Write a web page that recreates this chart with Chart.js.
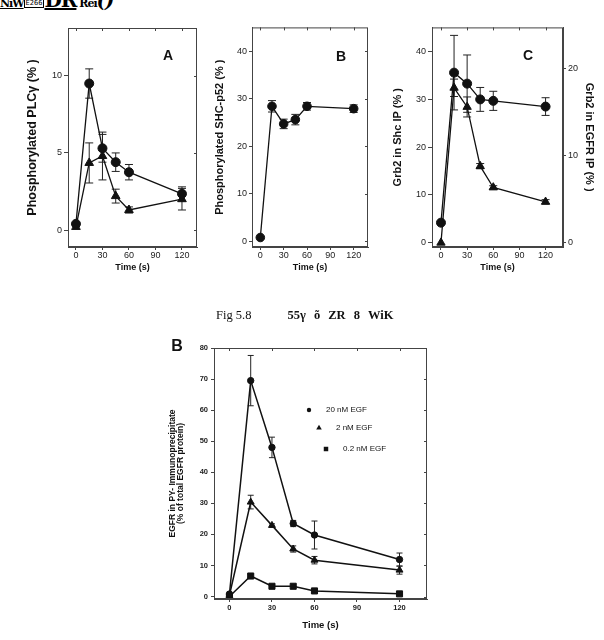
<!DOCTYPE html>
<html>
<head>
<meta charset="utf-8">
<script src="https://cdn.jsdelivr.net/npm/chart.js@4.4.0/dist/chart.umd.min.js"></script>
<style>
  html, body { margin: 0; padding: 0; background: #fff; }
  body { width: 604px; height: 640px; position: relative; overflow: hidden; font-family: "Liberation Sans", Arial, sans-serif; color: #111; }
  .box { position: absolute; }
  .tag { position: absolute; transform: translate(-50%, -50%); line-height: 1; font-weight: bold; color: #111; }
  #head { position: absolute; left: 0; top: -12px; white-space: nowrap; font: bold 20px "DejaVu Serif", serif; color: #000; letter-spacing: -1px; }
  #head .hex { display: inline-block; font: 7px "DejaVu Sans Mono", monospace; letter-spacing: 0; border: 1px solid #000; padding: 0 1px; vertical-align: 2px; }
  #caption { position: absolute; left: 216px; top: 308px; white-space: nowrap; font: 12.5px "Liberation Serif", serif; color: #111; }
  #caption b { font-weight: bold; word-spacing: 5px; margin-left: 36px; }
</style>
</head>
<body>

<div id="head"><span style="font-size:11px;text-decoration:underline">NiW</span><span class="hex">E266</span><u>ƊR</u><span style="font-size:11px"> Rei</span><i>()</i></div>

<div class="box" style="left:15px;top:20px;width:195px;height:270px"><canvas id="chartA"></canvas></div>
<div class="box" style="left:208px;top:20px;width:172px;height:270px"><canvas id="chartB"></canvas></div>
<div class="box" style="left:388px;top:20px;width:214px;height:270px"><canvas id="chartC"></canvas></div>
<div class="box" style="left:160px;top:330px;width:290px;height:310px"><canvas id="chartD"></canvas></div>

<div class="tag" style="left:168px;top:55px;font-size:14px">A</div>
<div class="tag" style="left:341px;top:56px;font-size:14px">B</div>
<div class="tag" style="left:528px;top:55px;font-size:14px">C</div>
<div class="tag" style="left:177px;top:346px;font-size:16px">B</div>

<div id="caption">Fig 5.8<b>55γ õ ZR 8 WiK</b></div>

<script>
const times = [0, 15, 30, 45, 60, 120];
const timeTicks = [0, 30, 60, 90, 120];

// panel A - phosphorylated PLCγ
const plcCircle = [0.4, 9.5, 5.3, 4.4, 3.75, 2.35];
const plcCircleErr = [0, 0.95, 0.9, 0.6, 0.5, 0.45];
const plcTri = [0.2, 4.35, 4.8, 2.2, 1.3, 2.0];
const plcTriErr = [0, 1.3, 1.55, 0.45, 0.2, 0.7];
const ticksA = [0, 5, 10];

// panel B - phosphorylated SHC-p52
const shc = [0.8, 28.4, 24.7, 25.6, 28.4, 27.9];
const shcErr = [0, 1.2, 1.0, 1.1, 0.8, 0.8];
const ticksB = [0, 10, 20, 30, 40];

// panel C - Grb2 in Shc IP (left) and in EGFR IP (right)
const grbShc = [4.2, 35.6, 33.3, 30.0, 29.7, 28.5];
const grbShcErr = [0, 7.8, 6.0, 2.5, 2.0, 1.85];
const grbEgfr = [0, 17.8, 15.6, 8.8, 6.35, 4.7];
const grbEgfrErr = [0, 1.0, 1.15, 0.3, 0.2, 0.25];
const ticksC = [0, 10, 20, 30, 40];
const ticksC2 = [0, 10, 20];

// lower panel - EGFR in PY immunoprecipitate
const egfLabels = ['20 nM EGF', '2 nM EGF', '0.2 nM EGF'];
const egfShapes = ['circle', 'triangle', 'rect'];
const egf20 = [0.8, 69.5, 48.0, 23.5, 19.8, 11.9];
const egf20Err = [0, 8.1, 3.3, 1.0, 4.5, 2.1];
const egf2 = [0.4, 30.4, 22.9, 15.3, 11.7, 8.5];
const egf2Err = [0, 2.2, 0.5, 1.0, 1.2, 1.3];
const egf02 = [0, 6.6, 3.3, 3.3, 1.8, 0.85];
const egf02Err = [0, 0.5, 0, 0, 0, 0];
const ticksD = [0, 10, 20, 30, 40, 50, 60, 70, 80];

const FONT = "'Liberation Sans', Arial, sans-serif";
Chart.defaults.font.family = FONT;
Chart.defaults.color = '#111';
Chart.defaults.animation = false;
Chart.defaults.plugins.legend.display = false;
Chart.defaults.plugins.tooltip.enabled = false;

// box round the plot with small inward ticks on top / right
const frame = {
    id: 'frame',
    afterDraw(chart) {
        const { ctx, chartArea: a, scales } = chart;
        ctx.save();
        ctx.strokeStyle = '#444';
        ctx.lineWidth = 1;
        ctx.strokeRect(a.left + 0.5, a.top + 0.5, a.right - a.left - 1, a.bottom - a.top - 1);
        ctx.beginPath();
        scales.x.ticks.forEach(t => {
            const px = Math.round(scales.x.getPixelForValue(t.value)) + 0.5;
            ctx.moveTo(px, a.top);
            ctx.lineTo(px, a.top + 3);
        });
        if (!scales.y2) {
            scales.y.ticks.forEach(t => {
                const py = Math.round(scales.y.getPixelForValue(t.value)) + 0.5;
                ctx.moveTo(a.right, py);
                ctx.lineTo(a.right - 3, py);
            });
        }
        ctx.stroke();
        ctx.restore();
    }
};

const errorBars = {
    id: 'errorBars',
    beforeDatasetsDraw(chart, args, opts) {
        const ctx = chart.ctx;
        const cap = opts.cap || 4;
        chart.data.datasets.forEach((ds, i) => {
            if (!ds.errors) return;
            const ys = chart.scales[ds.yAxisID || 'y'];
            const meta = chart.getDatasetMeta(i);
            ctx.save();
            ctx.strokeStyle = '#222';
            ctx.lineWidth = 1;
            meta.data.forEach((pt, j) => {
                const e = ds.errors[j];
                if (!e) return;
                const v = ds.data[j].y;
                const hi = ys.getPixelForValue(v + e);
                const lo = ys.getPixelForValue(v - e);
                ctx.beginPath();
                ctx.moveTo(pt.x, hi); ctx.lineTo(pt.x, lo);
                ctx.moveTo(pt.x - cap, hi); ctx.lineTo(pt.x + cap, hi);
                ctx.moveTo(pt.x - cap, lo); ctx.lineTo(pt.x + cap, lo);
                ctx.stroke();
            });
            ctx.restore();
        });
    }
};

function mark(ctx, shape, x, y, r) {
    ctx.beginPath();
    if (shape === 'circle') {
        ctx.arc(x, y, r, 0, Math.PI * 2);
    } else if (shape === 'triangle') {
        ctx.moveTo(x, y - r);
        ctx.lineTo(x + r * 0.87, y + r * 0.5);
        ctx.lineTo(x - r * 0.87, y + r * 0.5);
        ctx.closePath();
    } else {
        ctx.rect(x - r * 0.7, y - r * 0.7, r * 1.4, r * 1.4);
    }
    ctx.fill();
}

// the staggered key inside the lower plot
const stagger = {
    id: 'stagger',
    afterDraw(chart) {
        const { ctx, chartArea: a } = chart;
        const spots = [[95, 62, 2.2, 17], [105, 80, 3.2, 17], [112, 101, 3.2, 17]];
        ctx.save();
        ctx.fillStyle = '#111';
        ctx.font = '8px ' + FONT;
        ctx.textBaseline = 'middle';
        egfLabels.forEach((txt, i) => {
            const s = spots[i];
            mark(ctx, egfShapes[i], a.left + s[0], a.top + s[1], s[2]);
            ctx.fillText(txt, a.left + s[0] + s[3], a.top + s[1]);
        });
        ctx.restore();
    }
};

function series(values, errors, shape, size, axis, width) {
    return {
        data: times.map((t, i) => ({ x: t, y: values[i] })),
        errors: errors,
        yAxisID: axis || 'y',
        borderColor: '#111',
        backgroundColor: '#111',
        borderWidth: width || 1.3,
        pointStyle: shape,
        pointRadius: size,
        pointBorderWidth: 1,
        pointBackgroundColor: '#111',
        pointBorderColor: '#111',
        tension: 0
    };
}

function axisY(o) {
    return {
        type: 'linear',
        position: o.position || 'left',
        min: o.min,
        max: o.max,
        afterBuildTicks: s => { s.ticks = o.ticks.map(v => ({ value: v })); },
        afterFit: s => { s.width = o.width; },
        border: { color: '#444', width: 1 },
        grid: { drawOnChartArea: false, tickLength: o.tickLength || 4, color: '#444' },
        ticks: { font: { size: o.tickSize || 9, weight: o.tickWeight || 'normal' }, padding: o.tickPad || 2, color: '#222' },
        title: { display: true, text: o.title, font: { size: o.titleSize, weight: 'bold', lineHeight: o.lineHeight || 1.2 }, padding: { top: o.titlePad, bottom: 0 }, color: '#111' }
    };
}

function axisX(o) {
    return {
        type: 'linear',
        min: o.min,
        max: o.max,
        afterBuildTicks: s => { s.ticks = timeTicks.map(v => ({ value: v })); },
        afterFit: s => { s.height = o.height; },
        border: { color: '#444', width: 1 },
        grid: { drawOnChartArea: false, tickLength: 3, color: '#444' },
        ticks: { font: { size: o.tickSize || 9, weight: o.tickWeight || 'normal' }, padding: o.tickPad || 0, color: '#222', maxRotation: 0 },
        title: { display: true, text: 'Time (s)', font: { size: o.titleSize || 9, weight: 'bold' }, padding: { top: 0, bottom: o.titlePad }, color: '#111' }
    };
}

new Chart(document.getElementById('chartA'), {
    type: 'line',
    data: {
        datasets: [
            series(plcCircle, plcCircleErr, 'circle', 4.5),
            series(plcTri, plcTriErr, 'triangle', 5)
        ]
    },
    options: {
        responsive: true,
        maintainAspectRatio: false,
        layout: { padding: { top: 8, right: 13, left: 0, bottom: 0 } },
        scales: {
            x: axisX({ min: -9, max: 137, height: 43, titlePad: 16.6 }),
            y: axisY({ min: -1.1, max: 13.1, ticks: ticksA, width: 53, title: 'Phosphorylated PLCγ (% )', titleSize: 12.5, titlePad: 10.5 })
        },
        plugins: { errorBars: { cap: 4 } }
    },
    plugins: [frame, errorBars]
});

new Chart(document.getElementById('chartB'), {
    type: 'line',
    data: {
        datasets: [series(shc, shcErr, 'circle', 4.3)]
    },
    options: {
        responsive: true,
        maintainAspectRatio: false,
        layout: { padding: { top: 5, right: 12, left: 0, bottom: 0 } },
        scales: {
            x: axisX({ min: -10.7, max: 138.4, height: 43, titlePad: 16.6 }),
            y: axisY({ min: -1.2, max: 45, ticks: ticksB, width: 44, title: 'Phosphorylated SHC-p52 (% )', titleSize: 11, titlePad: 5.4, tickLength: 3 })
        },
        plugins: { errorBars: { cap: 4 } }
    },
    plugins: [frame, errorBars]
});

new Chart(document.getElementById('chartC'), {
    type: 'line',
    data: {
        datasets: [
            series(grbShc, grbShcErr, 'circle', 4.5),
            series(grbEgfr, grbEgfrErr, 'triangle', 4.8, 'y2')
        ]
    },
    options: {
        responsive: true,
        maintainAspectRatio: false,
        layout: { padding: { top: 5, right: 0, left: 0, bottom: 0 } },
        scales: {
            x: axisX({ min: -10.3, max: 140, height: 43, titlePad: 16.6 }),
            y: axisY({ min: -0.89, max: 45.07, ticks: ticksC, width: 44, title: 'Grb2 in Shc IP (% )', titleSize: 11, titlePad: 3.4 }),
            y2: axisY({ position: 'right', min: -0.49, max: 24.74, ticks: ticksC2, width: 39, title: 'Grb2 in EGFR IP (% )', titleSize: 11, titlePad: 6.4, tickLength: 3 })
        },
        plugins: { errorBars: { cap: 4 } }
    },
    plugins: [frame, errorBars]
});

new Chart(document.getElementById('chartD'), {
    type: 'line',
    data: {
        datasets: [
            series(egf20, egf20Err, 'circle', 3.2, 'y', 1.5),
            series(egf2, egf2Err, 'triangle', 4, 'y', 1.5),
            series(egf02, egf02Err, 'rect', 4.3, 'y', 1.5)
        ]
    },
    options: {
        responsive: true,
        maintainAspectRatio: false,
        layout: { padding: { top: 18, right: 23, left: 0, bottom: 0 } },
        scales: {
            x: axisX({ min: -10.9, max: 139.4, height: 41, titlePad: 9, titleSize: 9.5, tickSize: 7.5, tickWeight: 'bold', tickPad: 1.5 }),
            y: axisY({ min: -0.8, max: 80, ticks: ticksD, width: 54, title: ['EGFR in PY- Immunoprecipitate', '(% of total EGFR protein)'], titleSize: 8.5, lineHeight: 0.85, titlePad: 9.4, tickSize: 7.5, tickWeight: 'bold', tickLength: 3, tickPad: 3 })
        },
        plugins: { errorBars: { cap: 3 } }
    },
    plugins: [frame, errorBars, stagger]
});
</script>
</body>
</html>
